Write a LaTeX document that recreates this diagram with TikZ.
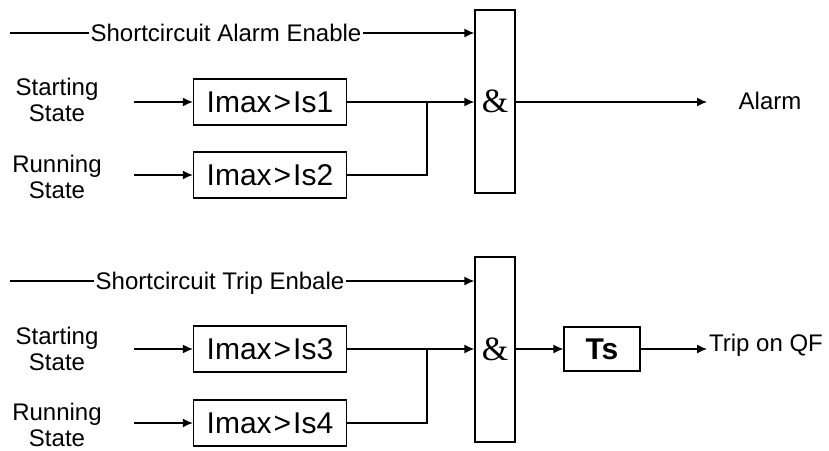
\documentclass[tikz,border=0pt]{standalone}
\usepackage{fontspec}
\setmainfont{Liberation Sans}
\newfontfamily\ampfont{Liberation Serif}
\usetikzlibrary{arrows.meta}
\begin{document}
\begin{tikzpicture}[x=0.5pt,y=-0.5pt,line width=0.65pt,>={Latex[length=5pt,width=4.5pt]},
  every node/.style={font=\fontsize{12}{13}\selectfont},
  lbl/.style={align=center,inner sep=0pt},
  enable/.style={inner sep=0.5pt,text height=8.6pt,text depth=0pt},
  cmpbox/.style={draw,minimum width=76.5pt,minimum height=23pt,inner sep=0pt,font=\fontsize{15}{17}\selectfont},
  andbox/.style={draw,minimum width=20pt,inner sep=0pt,font=\fontsize{17}{19}\ampfont}]
\useasboundingbox (0,0) rectangle (829,450);
% alarm part
\node [andbox,minimum height=91.5pt] (and1) at (495,101.5) {\&};
\node [enable] (en1) at (226,33) {Shortcircuit Alarm Enable};
\coordinate (s1) at (10,33);
\draw (s1) -- (en1.west);
\draw [->] (en1.east) -- (en1 -| and1.west);
\node [lbl] (st1) at (57,100) {Starting\\State};
\node [lbl] (ru1) at (57,177) {Running\\State};
\node [cmpbox] (cmp1) at (270,102) {Imax\kern1pt>\kern1ptIs1};
\node [cmpbox] (cmp2) at (270,175) {Imax\kern1pt>\kern1ptIs2};
\draw [<-] (cmp1.west) -- ++(-59,0);
\draw [<-] (cmp2.west) -- ++(-59,0);
\draw [->] (cmp1.east) -- (cmp1 -| and1.west);
\coordinate (j1) at (427,102);
\draw (cmp2.east) -| (j1);
\coordinate (o1) at (707,102);
\draw [->] (and1.east |- cmp1) -- (o1);
\node (alarm) at (770,101) {Alarm};
% trip part
\node [andbox,minimum height=92.5pt] (and2) at (495,349.5) {\&};
\node [enable] (en2) at (220,281) {Shortcircuit Trip Enbale};
\coordinate (s2) at (10,281);
\draw (s2) -- (en2.west);
\draw [->] (en2.east) -- (en2 -| and2.west);
\node [lbl] (st2) at (57,349) {Starting\\State};
\node [lbl] (ru2) at (57,425) {Running\\State};
\node [cmpbox] (cmp3) at (270,349) {Imax\kern1pt>\kern1ptIs3};
\node [cmpbox] (cmp4) at (270,423) {Imax\kern1pt>\kern1ptIs4};
\draw [<-] (cmp3.west) -- ++(-59,0);
\draw [<-] (cmp4.west) -- ++(-59,0);
\draw [->] (cmp3.east) -- (cmp3 -| and2.west);
\coordinate (j2) at (427,349);
\draw (cmp4.east) -| (j2);
\node [cmpbox,minimum width=38pt,minimum height=22pt,font=\fontsize{15}{17}\selectfont\bfseries] (ts) at (602,349) {Ts};
\draw [->] (and2.east |- ts) -- (ts.west);
\coordinate (o2) at (707,349);
\draw [->] (ts.east) -- (o2);
\node (trip) at (766,345) {Trip on QF};
\end{tikzpicture}
\end{document}
